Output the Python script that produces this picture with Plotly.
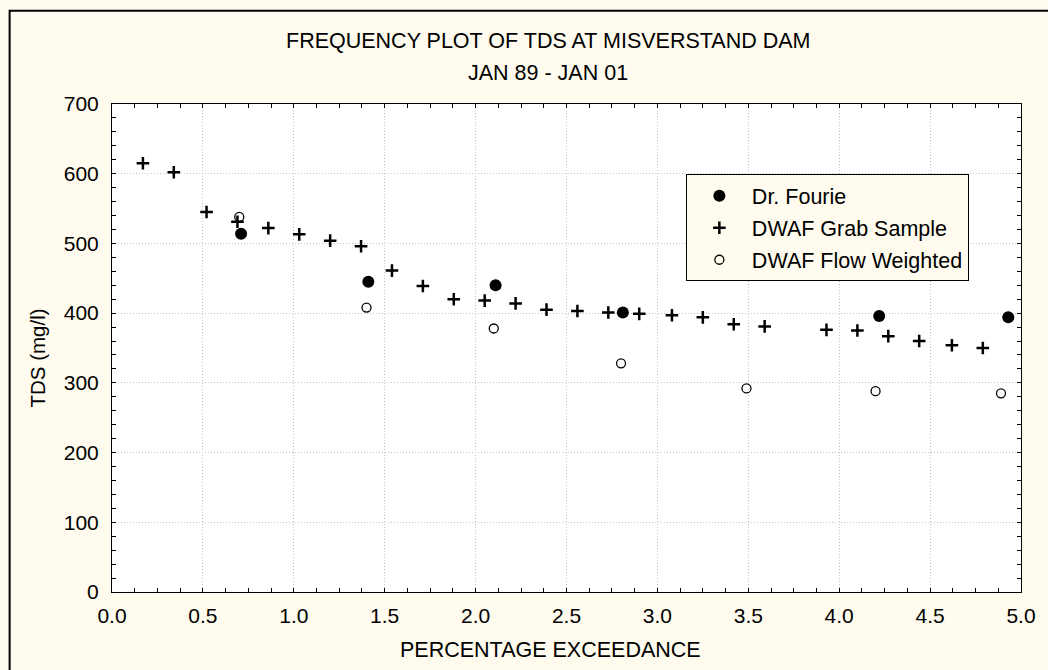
import plotly.graph_objects as go

# ---- data ----
grab_x = [0.17, 0.34, 0.52, 0.69, 0.86, 1.03, 1.20, 1.37, 1.54, 1.71, 1.88, 2.05, 2.22, 2.39,
          2.56, 2.73, 2.90, 3.08, 3.25, 3.42, 3.59, 3.93, 4.10, 4.27, 4.44, 4.62, 4.79]
grab_y = [615, 602, 545, 531, 522, 513, 504, 496, 461, 439, 420, 418, 414, 405,
          403, 401, 399, 397, 394, 384, 381, 376, 375, 367, 360, 354, 350]

fourie_x = [0.71, 1.41, 2.11, 2.81, 4.22, 4.93]
fourie_y = [514, 445, 440, 401, 396, 394]

flow_x = [0.70, 1.40, 2.10, 2.80, 3.49, 4.20, 4.89]
flow_y = [538, 408, 378, 328, 292, 288, 285]

title_lines = ["FREQUENCY PLOT OF TDS AT MISVERSTAND DAM", "JAN 89 - JAN 01"]
x_title = "PERCENTAGE EXCEEDANCE"
y_title = "TDS (mg/l)"

FONT = "Liberation Sans, Arial, sans-serif"
CREAM = "#fffcef"

fig = go.Figure()
fig.add_trace(go.Scatter(x=fourie_x, y=fourie_y, mode="markers", name="Dr. Fourie",
                         legendgroup="a",
                         marker=dict(symbol="circle", size=12, color="black")))
fig.add_trace(go.Scatter(x=grab_x, y=grab_y, mode="markers", name="DWAF Grab Sample",
                         legendgroup="b",
                         marker=dict(symbol="cross-thin", size=9, color="black",
                                     line=dict(width=2.5, color="black"))))
fig.add_trace(go.Scatter(x=flow_x, y=flow_y, mode="markers", name="DWAF Flow Weighted",
                         legendgroup="c",
                         marker=dict(symbol="circle-open", size=9, color="black",
                                     line=dict(width=1.3, color="black"))))

axis_common = dict(
    showline=True, linecolor="black", linewidth=1, mirror="ticks",
    ticks="inside", ticklen=4, tickcolor="black", tickwidth=1,
    showgrid=True, gridcolor="#c4c4c4", griddash="1px,2px", gridwidth=1,
    zeroline=False,
    tickfont=dict(family=FONT, size=21, color="black"),
)

fig.update_xaxes(range=[0, 5], dtick=0.5, tick0=0, tickformat=".1f",
                 minor=dict(dtick=0.125, ticks="inside", ticklen=4, tickcolor="black", showgrid=False),
                 ticklabelstandoff=5, **axis_common)
fig.update_yaxes(range=[0, 700], dtick=100, tick0=0,
                 minor=dict(dtick=20, ticks="inside", ticklen=4, tickcolor="black", showgrid=False),
                 ticklabelstandoff=8, **axis_common)

L, R, T, B = 111.5, 1021.5, 103.5, 592.5
W, H = R - L, B - T

def px(xp):
    return (xp - L) / W

def py(yp):
    return (B - yp) / H

TITLE_X = 548
annotations = [
    dict(text=title_lines[0], x=px(TITLE_X), y=py(40), xref="paper", yref="paper",
         xanchor="center", yanchor="middle",
         showarrow=False, font=dict(family=FONT, size=21.5, color="black")),
    dict(text=title_lines[1], x=px(TITLE_X), y=py(72), xref="paper", yref="paper",
         xanchor="center", yanchor="middle",
         showarrow=False, font=dict(family=FONT, size=21.5, color="black")),
    dict(text=x_title, x=px(TITLE_X + 2), y=py(651), xref="paper", yref="paper",
         xanchor="center", yanchor="middle",
         showarrow=False, font=dict(family=FONT, size=21.5, color="black")),
    dict(text=y_title, x=px(37), y=py(358), xref="paper", yref="paper", textangle=-90,
         xanchor="center", yanchor="middle",
         showarrow=False, font=dict(family=FONT, size=20.5, color="black")),
]

fig.update_layout(
    width=1048, height=670,
    margin=dict(l=L, r=1048 - R, t=T, b=670 - B, pad=0),
    paper_bgcolor=CREAM, plot_bgcolor="white",
    showlegend=True,
    legend=dict(x=px(686), y=py(174), xanchor="left", yanchor="top",
                bgcolor=CREAM, bordercolor="black", borderwidth=1,
                font=dict(family=FONT, size=21.5, color="black"),
                traceorder="grouped", tracegroupgap=1, itemwidth=55,
                entrywidth=230),
    annotations=annotations,
    shapes=[dict(type="rect", xref="paper", yref="paper",
                 x0=px(9), x1=px(1070), y0=py(700), y1=py(10),
                 line=dict(color="black", width=2), fillcolor="rgba(0,0,0,0)")],
)

fig.write_html("out.html")
